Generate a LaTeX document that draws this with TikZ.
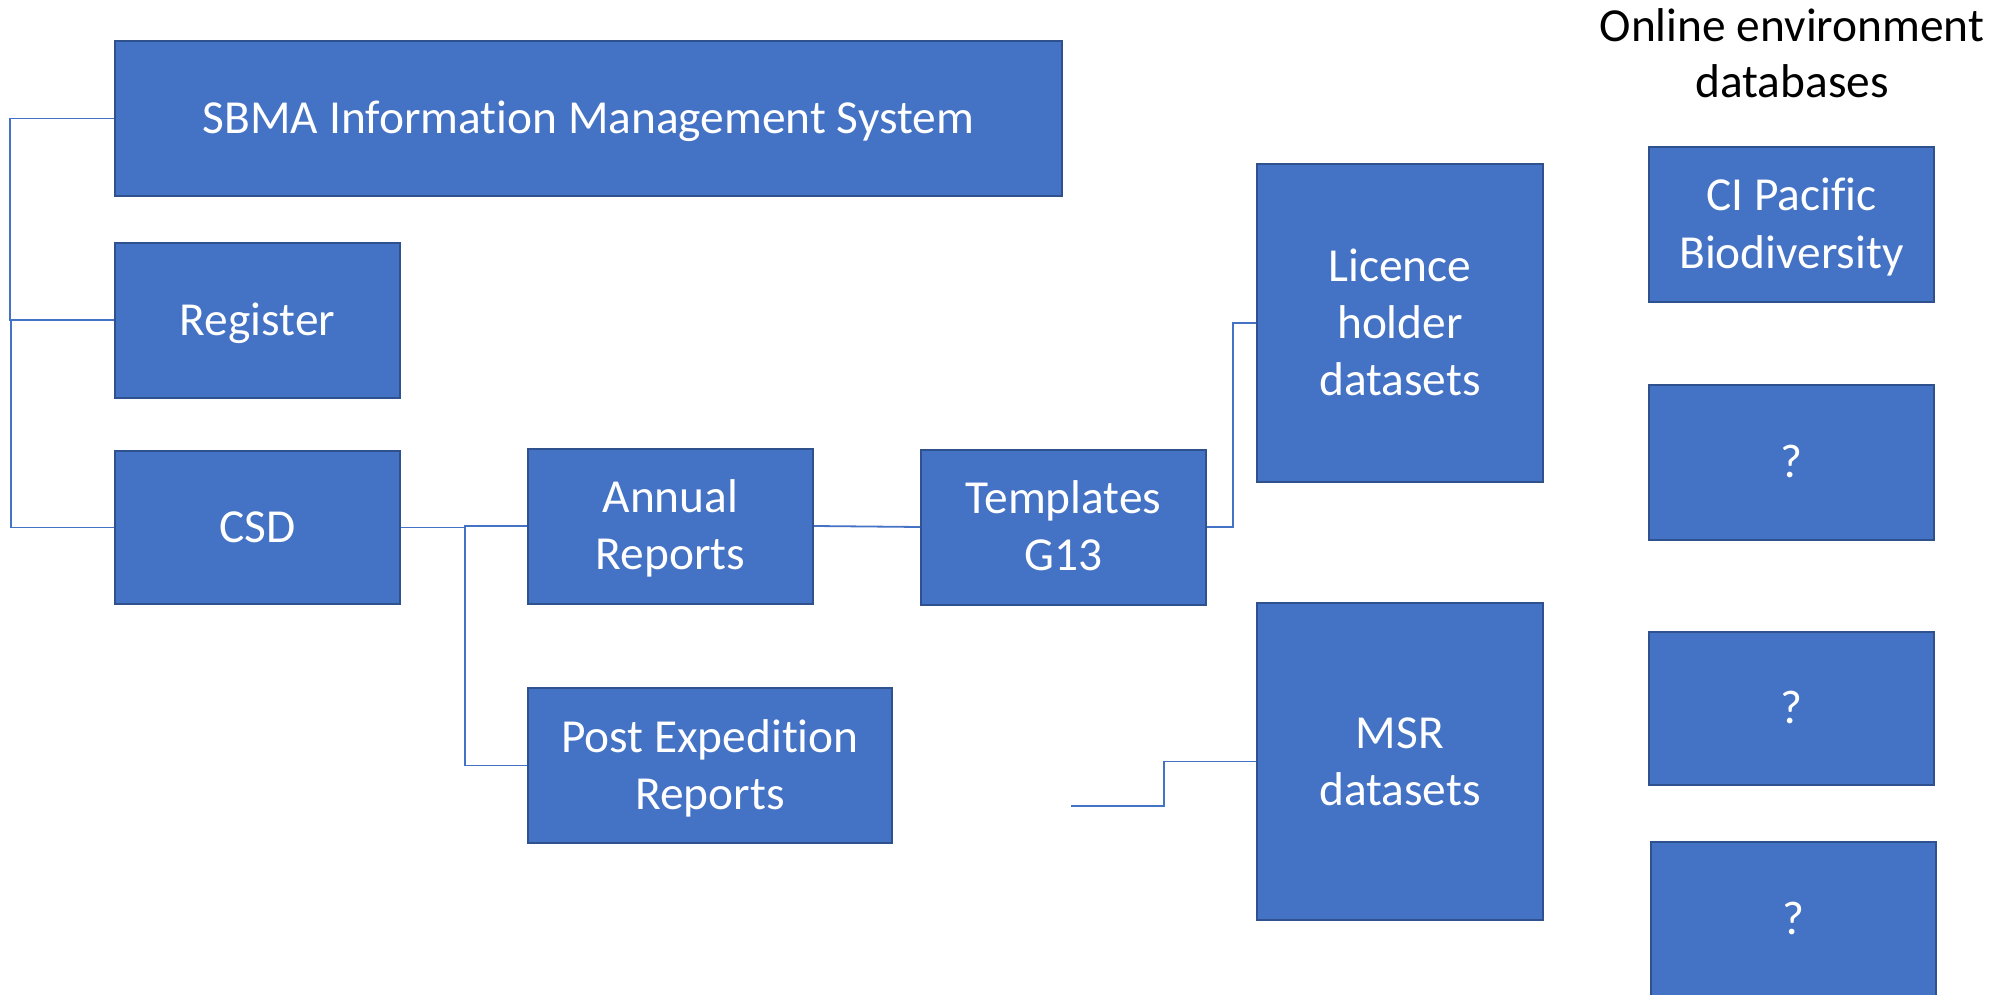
\documentclass[tikz,border=0pt]{standalone}
\usepackage{fontspec}
\setmainfont{Carlito}[Ligatures=NoCommon]
\usetikzlibrary{calc}

\definecolor{boxfill}{HTML}{4472C4}
\definecolor{boxedge}{HTML}{2F528F}
\definecolor{linkcol}{HTML}{4472C4}

\newcommand{\lines}[1]{\begin{tabular}[t]{@{}c@{}}#1\end{tabular}}

\tikzset{
  blk/.style={draw=boxedge, fill=boxfill, line width=1pt, text=white,
    inner sep=0pt, font=\fontsize{23.7pt}{28.5pt}\selectfont,
    text height=15pt, text depth=0pt,
    minimum width=142.5pt, minimum height=77.5pt},
  two/.style={text depth=28.5pt},
  three/.style={text depth=57pt},
  link/.style={draw=linkcol, line width=0.9pt},
  heading/.style={inner sep=0pt, text=black,
    font=\fontsize{23.7pt}{28pt}\selectfont,
    text height=15pt, text depth=28pt}
}

\begin{document}
\begin{tikzpicture}[x=0.5pt, y=-0.5pt]
\useasboundingbox (0,0) rectangle (1999,995);

% left column
\node[blk, minimum width=473.5pt] (sbma) at (588.5,118.5) {SBMA Information Management System};
\node[blk] (reg) at (257.5,320) {Register};
\node[blk, minimum height=76.5pt] (csd) at (257.5,527.5) {CSD};

% reports
\node[blk, two] (annual) at (670.5,526) {\lines{Annual\\Reports}};
\node[blk, two, minimum width=182pt] (per) at (710,765.5) {\lines{Post Expedition\\Reports}};
\node[blk, two] (tmpl) at (1063.5,527) {\lines{Templates\\G13}};

% datasets
\node[blk, three, minimum width=143pt, minimum height=159pt] (lic) at (1400,323) {\lines{Licence\\holder\\datasets}};
\node[blk, two, minimum width=143pt, minimum height=158.5pt] (msr) at (1400,761.5) {\lines{MSR\\datasets}};

% online databases
\node[heading] (dbhead) at (1792,55) {\lines{Online environment\\databases}};
\node[blk, two] (ci) at (1791.5,224.5) {\lines{CI Pacific\\Biodiversity}};
\node[blk] (q1) at (1791.5,462) {?};
\node[blk, minimum height=76.5pt] (q2) at (1791.5,708.5) {?};
\node[blk] (q3) at (1793.5,919.5) {?};

% connectors
\draw[link] (sbma.west) -- ++(-104,0) |- (reg.west);
\draw[link] (reg.west) -- ++(-103,0) |- (csd.west);
\draw[link] (csd.east) -- ++(64,0) coordinate (split) |- (annual.west);
\draw[link] (split) |- (per.west);
\draw[link] (annual.east) -- (tmpl.west);
\draw[link] (tmpl.east) -- ++(26,0) |- (lic.west);
\coordinate (msrfree) at (1071,806);
\draw[link] (msrfree) -- ++(93,0) |- (msr.west);
\end{tikzpicture}
\end{document}
